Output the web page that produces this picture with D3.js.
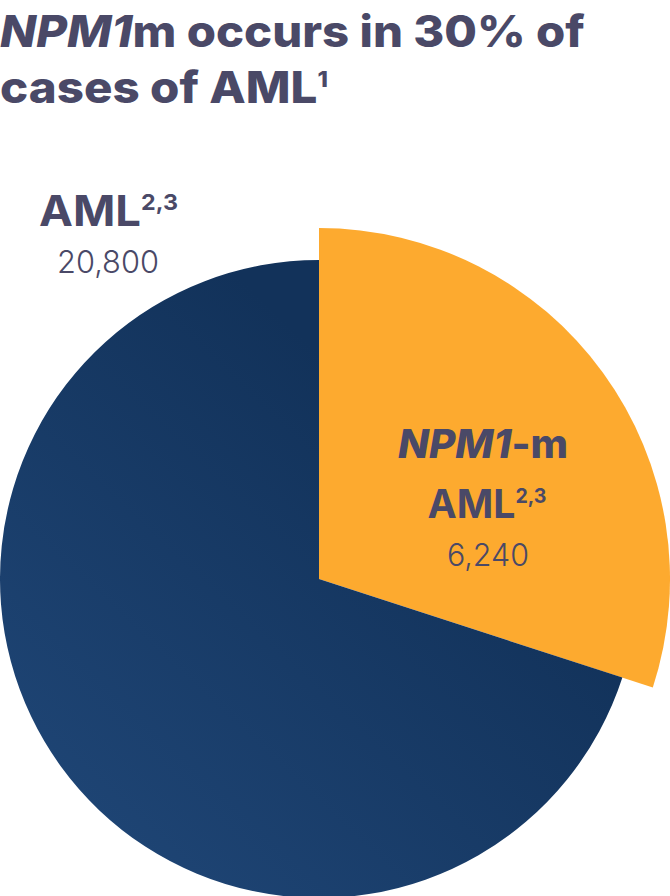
<!DOCTYPE html>
<html>
<head>
<meta charset="utf-8">
<script src="https://cdn.jsdelivr.net/npm/d3@7"></script>
<style>
  html, body { margin: 0; padding: 0; background: #ffffff; }
  svg { display: block; }
  text { font-family: "Inter", "Noto Sans", sans-serif; fill: #4a4967; }
</style>
</head>
<body>
<svg id="chart" width="670" height="896"></svg>
<script>
// ---- data ----
const categories = ["NPM1-m AML", "Other AML"];
const values = [6240, 14560];
const totalAML = 20800;
const valueLabels = ["6,240", "20,800"];
const titleLines = ["NPM1m occurs in 30% of", "cases of AML"];

// ---- layout ----
const W = 670, H = 896;
const cx = 319, cy = 579;
const rOuter = [351, 319];
const colors = ["#fdaa2f", null];

const svg = d3.select("#chart");
const defs = svg.append("defs");
const grad = defs.append("linearGradient")
  .attr("id", "blueGrad")
  .attr("gradientUnits", "userSpaceOnUse")
  .attr("x1", cx + 260).attr("y1", cy - 260)
  .attr("x2", cx - 230).attr("y2", cy + 260);
grad.append("stop").attr("offset", "0%").attr("stop-color", "#12325a");
grad.append("stop").attr("offset", "100%").attr("stop-color", "#234c7f");

const pie = d3.pie().sort(null).value(d => d.value).startAngle(0).endAngle(2 * Math.PI);
const data = categories.map((c, i) => ({ category: c, value: values[i], idx: i }));
const arcs = pie(data);

const g = svg.append("g").attr("transform", `translate(${cx},${cy})`);
g.selectAll("path.slice")
  .data(arcs)
  .join("path")
  .attr("class", "slice")
  .attr("d", d => d3.arc().innerRadius(0).outerRadius(rOuter[d.data.idx])(d))
  .attr("fill", d => d.data.idx === 1 ? "url(#blueGrad)" : colors[0]);

// helper: horizontally fit a text to a target width around an anchor point
function fit(textSel, target, anchorX) {
  const w = textSel.node().getBBox().width;
  const s = target / w;
  textSel.attr("transform", `translate(${anchorX},0) scale(${s},1) translate(${-anchorX},0)`);
}

// ---- title ----
const t1 = svg.append("text").attr("x", 0).attr("y", 47)
  .style("font-size", "44px").style("font-weight", 800);
t1.append("tspan").style("font-style", "italic").text("NPM1");
t1.append("tspan").text(titleLines[0].slice(4));
fit(t1, 585, 0);

const t2 = svg.append("text").attr("x", 0).attr("y", 103)
  .style("font-size", "44px").style("font-weight", 800);
t2.append("tspan").text(titleLines[1]);
t2.append("tspan").attr("dy", -16).style("font-size", "22px").text("1");
fit(t2, 328, 0);

// ---- AML label ----
const a1 = svg.append("text").attr("x", 39).attr("y", 226)
  .style("font-size", "43px").style("font-weight", 700);
a1.append("tspan").text("AML");
a1.append("tspan").attr("dy", -16).style("font-size", "22px").text("2,3");
fit(a1, 139, 39);

const a2 = svg.append("text").attr("x", 108).attr("y", 273)
  .attr("text-anchor", "middle")
  .style("font-size", "31px").style("font-weight", 300)
  .text(valueLabels[1]);
fit(a2, 102, 108);

// ---- NPM1-m label ----
const n1 = svg.append("text").attr("x", 483).attr("y", 458)
  .attr("text-anchor", "middle")
  .style("font-size", "40px").style("font-weight", 800);
n1.append("tspan").style("font-style", "italic").text("NPM1");
n1.append("tspan").text("-m");
fit(n1, 170, 483);

const n2 = svg.append("text").attr("x", 487).attr("y", 518)
  .attr("text-anchor", "middle")
  .style("font-size", "40px").style("font-weight", 700);
n2.append("tspan").text("AML");
n2.append("tspan").attr("dy", -15).style("font-size", "20px").text("2,3");
fit(n2, 119, 487);

const n3 = svg.append("text").attr("x", 488).attr("y", 566)
  .attr("text-anchor", "middle")
  .style("font-size", "31px").style("font-weight", 300)
  .text(valueLabels[0]);
fit(n3, 82, 488);
</script>
</body>
</html>
